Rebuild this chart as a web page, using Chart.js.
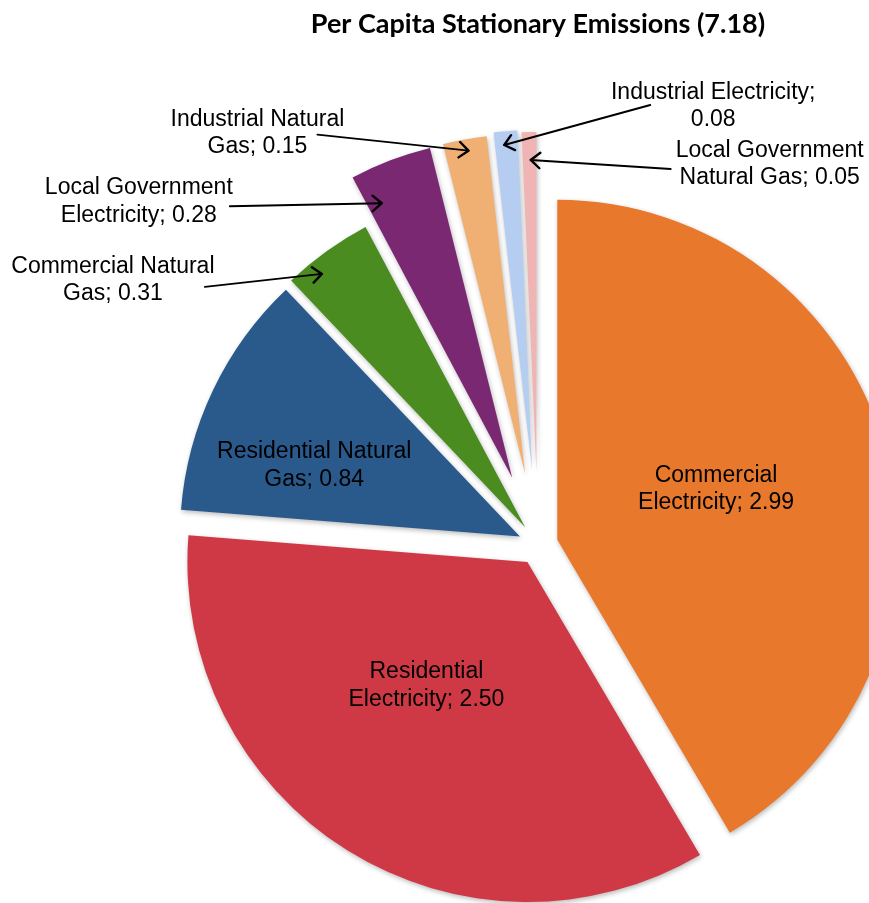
<!DOCTYPE html>
<html>
<head>
<meta charset="utf-8">
<title>Per Capita Stationary Emissions</title>
<script src="https://cdn.jsdelivr.net/npm/chart.js@4.4.1/dist/chart.umd.min.js"></script>
<style>
  html, body { margin: 0; padding: 0; background: #fff; overflow: hidden; }
  #wrap { width: 869px; height: 903px; overflow: hidden; }
</style>
</head>
<body>
<div id="wrap"><canvas id="chart" width="869" height="903"></canvas></div>
<script>
const categories = [
  "Commercial Electricity",
  "Residential Electricity",
  "Residential Natural Gas",
  "Commercial Natural Gas",
  "Local Government Electricity",
  "Industrial Natural Gas",
  "Industrial Electricity",
  "Local Government Natural Gas"
];
const emissions = [2.99, 2.50, 0.84, 0.31, 0.28, 0.15, 0.08, 0.05];
const sliceColors = ["#E8782C", "#CF3945", "#2A5A8C", "#4B8C21", "#7B2872", "#F0B073", "#B4CDF0", "#F0B4B4"];

// how far each slice is pulled out of the pie, px
const explode = [20, 20, 20, 22, 72, 72, 75, 73];

// r = fraction of the radius, turn = degrees off the slice's middle.
// Outside labels get an arrow; text/tail are offsets from the arrow tip.
const labelPlacement = [
  { inside: true, r: 0.49, turn: -2.4 },
  { inside: true, r: 0.47, turn: 7.2 },
  { inside: true, r: 0.64, turn: -6.5 },
  { r: 0.955, turn: -3, text: [-209, 6], tail: [-117, 13] },
  { r: 0.894, turn: -4.4, text: [-243, -1.5], tail: [-152, 3] },
  { r: 0.966, turn: 0.3, text: [-211, -17.5], tail: [-151, -16] },
  { r: 0.96, turn: -0.4, text: [209, -39], tail: [146, -40] },
  { r: 0.918, turn: 0.2, text: [239, 4], tail: [140, 9] }
];

const LABEL_FONT = '23px "Liberation Sans", Arial, sans-serif';
const LINE_HEIGHT = 27.5;
const WRAP_WIDTH = 215;

function wrapText(ctx, text, maxWidth) {
  const words = text.split(" ");
  const lines = [];
  let line = words[0];
  for (let i = 1; i < words.length; i++) {
    const test = line + " " + words[i];
    if (ctx.measureText(test).width > maxWidth) {
      lines.push(line);
      line = words[i];
    } else {
      line = test;
    }
  }
  lines.push(line);
  return lines;
}

const explodePlugin = {
  id: "explode",
  afterDatasetUpdate(chart, args) {
    args.meta.data.forEach((arc, i) => {
      const mid = (arc.startAngle + arc.endAngle) / 2;
      arc.x += Math.cos(mid) * explode[i];
      arc.y += Math.sin(mid) * explode[i];
    });
  }
};

const shadowPlugin = {
  id: "sliceShadow",
  beforeDatasetsDraw(chart) {
    const ctx = chart.ctx;
    ctx.save();
    ctx.shadowColor = "rgba(0, 0, 0, 0.28)";
    ctx.shadowBlur = 5;
    ctx.shadowOffsetX = 1;
    ctx.shadowOffsetY = 2;
  },
  afterDatasetsDraw(chart) {
    chart.ctx.restore();
  }
};

function drawArrow(ctx, x0, y0, x1, y1) {
  const ang = Math.atan2(y1 - y0, x1 - x0);
  const head = 12;
  const spread = 0.7;
  ctx.beginPath();
  ctx.moveTo(x0, y0);
  ctx.lineTo(x1, y1);
  ctx.stroke();
  ctx.lineWidth = 2.4;
  ctx.beginPath();
  ctx.moveTo(x1 - Math.cos(ang - spread) * head, y1 - Math.sin(ang - spread) * head);
  ctx.lineTo(x1, y1);
  ctx.lineTo(x1 - Math.cos(ang + spread) * head, y1 - Math.sin(ang + spread) * head);
  ctx.stroke();
  ctx.lineWidth = 1.9;
}

const labelPlugin = {
  id: "sliceLabels",
  afterDatasetsDraw(chart) {
    const ctx = chart.ctx;
    const arcs = chart.getDatasetMeta(0).data;
    ctx.save();
    ctx.font = LABEL_FONT;
    ctx.fillStyle = "#000";
    ctx.strokeStyle = "#000";
    ctx.lineWidth = 1.9;
    ctx.lineJoin = "round";
    ctx.lineCap = "round";
    ctx.textAlign = "center";
    ctx.textBaseline = "middle";
    arcs.forEach((arc, i) => {
      const p = labelPlacement[i];
      const a = (arc.startAngle + arc.endAngle) / 2 + p.turn * Math.PI / 180;
      const px = arc.x + Math.cos(a) * arc.outerRadius * p.r;
      const py = arc.y + Math.sin(a) * arc.outerRadius * p.r;
      const lines = wrapText(ctx, categories[i] + "; " + emissions[i].toFixed(2), WRAP_WIDTH);
      let cx = px, cy = py;
      if (!p.inside) {
        cx += p.text[0];
        cy += p.text[1];
        drawArrow(ctx, px + p.tail[0], py + p.tail[1], px, py);
      }
      lines.forEach((line, k) => {
        ctx.fillText(line, cx, cy + (k - (lines.length - 1) / 2) * LINE_HEIGHT);
      });
    });
    ctx.restore();
  }
};

new Chart(document.getElementById("chart"), {
  type: "pie",
  data: {
    labels: categories,
    datasets: [{
      data: emissions,
      backgroundColor: sliceColors,
      borderWidth: 0,
      radius: 340,
      clip: false
    }]
  },
  options: {
    responsive: false,
    devicePixelRatio: 1,
    animation: false,
    layout: {
      padding: { left: 207, right: 0, top: 0, bottom: 0 }
    },
    plugins: {
      legend: { display: false },
      tooltip: { enabled: false },
      title: {
        display: true,
        text: "Per Capita Stationary Emissions (7.18)",
        color: "#000",
        font: { family: "Lato", size: 27, weight: "bold" },
        padding: { top: 8.5, bottom: 146.1 }
      }
    }
  },
  plugins: [explodePlugin, shadowPlugin, labelPlugin]
});
</script>
</body>
</html>
